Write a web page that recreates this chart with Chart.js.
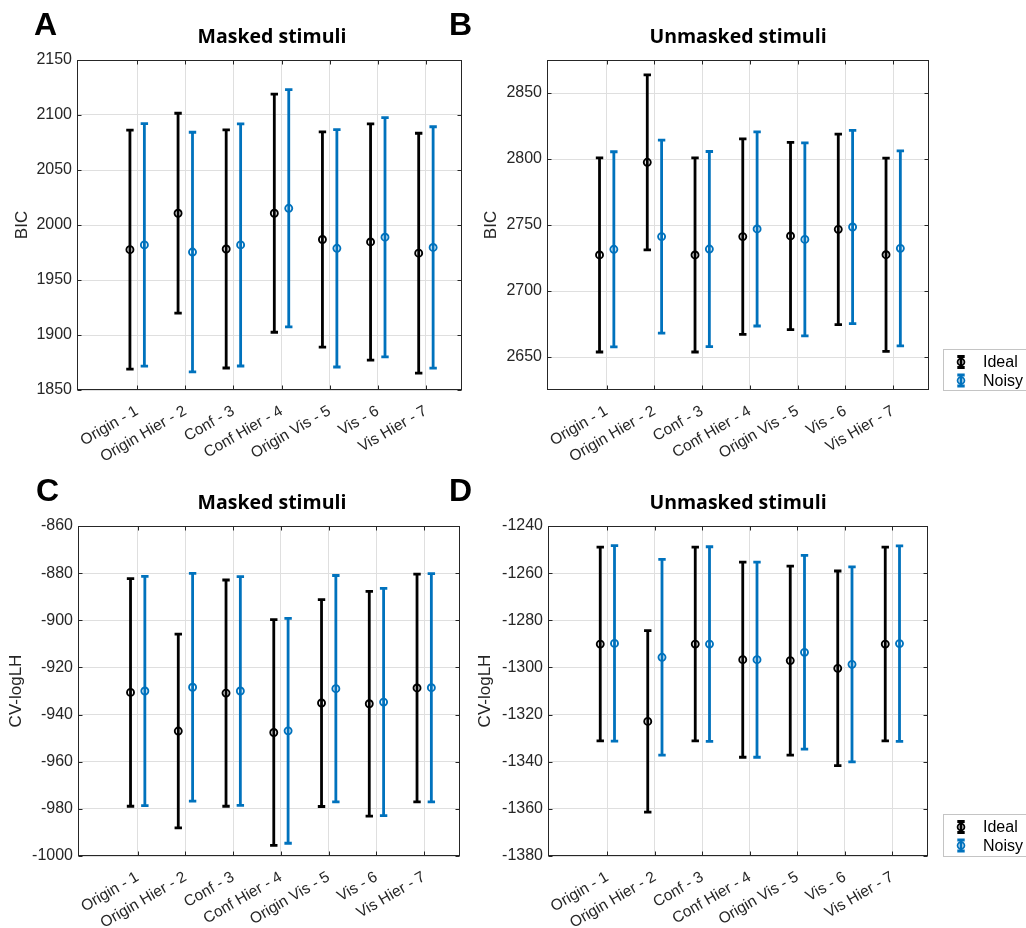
<!DOCTYPE html>
<html>
<head>
<meta charset="utf-8">
<title>BIC / CV-logLH</title>
<script src="https://cdn.jsdelivr.net/npm/chart.js@4.4.1/dist/chart.umd.min.js"></script>
<style>
body { margin: 0; background: #fff; }
#page { position: relative; width: 1026px; height: 928px; overflow: hidden; }
canvas { position: absolute; }
</style>
</head>
<body>
<div id="page">
  <canvas id="graphA" width="500" height="460" style="left:0;top:0"></canvas>
  <canvas id="graphB" width="586" height="460" style="left:440px;top:0"></canvas>
  <canvas id="graphC" width="500" height="468" style="left:0;top:460px"></canvas>
  <canvas id="graphD" width="586" height="468" style="left:440px;top:460px"></canvas>
</div>
<script>
//--------------------- DATA -------------------------
const models = ['Origin - 1', 'Origin Hier - 2', 'Conf - 3', 'Conf Hier - 4', 'Origin Vis - 5', 'Vis - 6', 'Vis Hier - 7'];

// BIC, masked stimuli (mean and half width of error bar)
const bicMaskedIdeal = [1977.6, 2010.7, 1978.2, 2010.7, 1986.8, 1984.6, 1974.4];
const bicMaskedIdealErr = [108.6, 90.9, 108.2, 108.2, 97.9, 107.4, 109.0];
const bicMaskedNoisy = [1981.9, 1975.4, 1981.9, 2015.2, 1978.8, 1988.9, 1979.6];
const bicMaskedNoisyErr = [110.2, 108.9, 110.1, 107.9, 107.9, 108.8, 109.7];
const bicMaskedTicks = [1850, 1900, 1950, 2000, 2050, 2100, 2150];

// BIC, unmasked stimuli
const bicUnmaskedIdeal = [2727.3, 2797.5, 2727.3, 2741.2, 2741.7, 2746.7, 2727.5];
const bicUnmaskedIdealErr = [73.5, 66.3, 73.5, 74.0, 70.9, 72.2, 73.2];
const bicUnmaskedNoisy = [2731.6, 2741.2, 2731.8, 2747.0, 2739.1, 2748.5, 2732.3];
const bicUnmaskedNoisyErr = [73.9, 73.1, 73.9, 73.5, 73.1, 73.2, 73.9];
const bicUnmaskedTicks = [2650, 2700, 2750, 2800, 2850];

// CV-logLH, masked stimuli
const cvMaskedIdeal = [-930.6, -947.0, -930.9, -947.6, -935.1, -935.4, -928.7];
const cvMaskedIdealErr = [48.3, 41.1, 48.0, 47.9, 43.9, 47.7, 48.3];
const cvMaskedNoisy = [-930.0, -928.4, -930.0, -946.9, -929.0, -934.7, -928.6];
const cvMaskedNoisyErr = [48.6, 48.3, 48.5, 47.7, 48.0, 48.2, 48.4];
const cvMaskedTicks = [-1000, -980, -960, -940, -920, -900, -880, -860];

// CV-logLH, unmasked stimuli
const cvUnmaskedIdeal = [-1290.1, -1322.9, -1290.1, -1296.7, -1297.1, -1300.4, -1290.1];
const cvUnmaskedIdealErr = [41.1, 38.5, 41.1, 41.4, 40.1, 41.3, 41.1];
const cvUnmaskedNoisy = [-1289.8, -1295.7, -1290.1, -1296.7, -1293.6, -1298.7, -1289.9];
const cvUnmaskedNoisyErr = [41.5, 41.5, 41.3, 41.4, 41.1, 41.4, 41.5];
const cvUnmaskedTicks = [-1380, -1360, -1340, -1320, -1300, -1280, -1260, -1240];

const IDEAL_COLOR = '#000000';
const NOISY_COLOR = '#0072BD';
const AXIS_COLOR = '#262626';
const FONT = "'Liberation Sans', Arial, sans-serif";

//--------------------- PLUGINS -------------------------
// error bar with caps, drawn before the circle markers
function drawErrorBar(ctx, px, top, bot, color) {
    ctx.save();
    ctx.strokeStyle = color;
    ctx.lineWidth = 2.8;
    ctx.beginPath();
    ctx.moveTo(px, top);
    ctx.lineTo(px, bot);
    ctx.moveTo(px - 3.7, top);
    ctx.lineTo(px + 3.7, top);
    ctx.moveTo(px - 3.7, bot);
    ctx.lineTo(px + 3.7, bot);
    ctx.stroke();
    ctx.restore();
}

const errorBars = {
    id: 'errorBars',
    beforeDatasetsDraw(chart) {
        const xs = chart.scales.x;
        const ys = chart.scales.y;
        chart.data.datasets.forEach((ds) => {
            ds.data.forEach((p, j) => {
                const px = xs.getPixelForValue(p.x);
                const top = ys.getPixelForValue(p.y + ds.errors[j]);
                const bot = ys.getPixelForValue(p.y - ds.errors[j]);
                drawErrorBar(chart.ctx, px, top, bot, ds.borderColor);
            });
        });
    }
};

// box, inward ticks, title, panel letter, legend
const frame = {
    id: 'frame',
    afterDraw(chart, args, opts) {
        const ctx = chart.ctx;
        const a = chart.chartArea;
        const xs = chart.scales.x;
        const ys = chart.scales.y;
        const L = Math.round(a.left) + 0.5, R = Math.round(a.right) - 0.5;
        const T = Math.round(a.top) + 0.5, B = Math.round(a.bottom) - 0.5;
        ctx.save();
        ctx.strokeStyle = AXIS_COLOR;
        ctx.lineWidth = 1;
        ctx.strokeRect(L, T, R - L, B - T);
        ctx.beginPath();
        ys.ticks.forEach((t) => {
            const py = Math.round(ys.getPixelForValue(t.value)) + 0.5;
            ctx.moveTo(L, py); ctx.lineTo(L + 4, py);
            ctx.moveTo(R, py); ctx.lineTo(R - 4, py);
        });
        xs.ticks.forEach((t) => {
            const px = Math.round(xs.getPixelForValue(t.value)) + 0.5;
            ctx.moveTo(px, B); ctx.lineTo(px, B - 4);
            ctx.moveTo(px, T); ctx.lineTo(px, T + 4);
        });
        ctx.stroke();

        ctx.fillStyle = '#000';
        ctx.textAlign = 'center';
        ctx.textBaseline = 'alphabetic';
        ctx.font = "bold 19.5px 'Open Sans', sans-serif";
        ctx.fillText(opts.title, opts.titleX, opts.titleY);

        ctx.textAlign = 'left';
        ctx.font = 'bold 32px ' + FONT;
        ctx.fillText(opts.letter, opts.letterX, opts.letterY);

        if (opts.legend) {
            const lg = opts.legend;
            ctx.strokeStyle = '#c4c4c4';
            ctx.strokeRect(lg.left + 0.5, lg.top + 0.5, chart.width - lg.left + 5, lg.bottom - lg.top);
            ctx.font = '16px ' + FONT;
            ctx.textBaseline = 'middle';
            chart.data.datasets.forEach((ds, i) => {
                const cy = lg.top + 13 + i * 18.5;
                drawErrorBar(ctx, lg.left + 18, cy - 5.5, cy + 5.5, ds.borderColor);
                ctx.beginPath();
                ctx.lineWidth = 1.8;
                ctx.strokeStyle = ds.borderColor;
                ctx.arc(lg.left + 18, cy, 3.4, 0, Math.PI * 2);
                ctx.stroke();
                ctx.fillStyle = '#000';
                ctx.fillText(ds.label, lg.left + 40, cy + 1);
            });
        }
        ctx.restore();
    }
};

//--------------------- CHART SETUP -------------------------
function series(label, means, errors, shift, color) {
    return {
        label: label,
        data: means.map((m, i) => ({ x: i + 1 + shift, y: m })),
        errors: errors,
        borderColor: color,
        backgroundColor: 'rgba(0,0,0,0)',
        pointRadius: 3.5,
        pointBorderWidth: 1.9,
        showLine: false
    };
}

function makeChart(p) {
    const canvas = document.getElementById(p.id);
    const W = canvas.width;
    const H = canvas.height;
    const padLeft = p.yTitleX - 11;
    return new Chart(canvas.getContext('2d'), {
        type: 'scatter',
        data: {
            datasets: [
                series('Ideal', p.ideal, p.idealErr, -0.15, IDEAL_COLOR),
                series('Noisy', p.noisy, p.noisyErr, 0.15, NOISY_COLOR)
            ]
        },
        options: {
            responsive: false,
            animation: false,
            layout: { padding: { left: padLeft, top: p.area.top, right: W - p.area.right, bottom: 0 } },
            plugins: {
                legend: { display: false },
                tooltip: { enabled: false },
                frame: p.frame
            },
            scales: {
                x: {
                    type: 'linear',
                    min: -0.25,
                    max: 7.75,
                    afterBuildTicks: (s) => { s.ticks = models.map((m, i) => ({ value: i + 1 })); },
                    afterFit: (s) => { s.height = H - p.area.bottom; },
                    ticks: {
                        callback: (v) => models[v - 1],
                        autoSkip: false,
                        minRotation: 30,
                        maxRotation: 30,
                        padding: 12,
                        color: AXIS_COLOR,
                        font: { family: FONT, size: 15.5 }
                    },
                    grid: { color: '#dfdfdf', drawTicks: false },
                    border: { display: false }
                },
                y: {
                    min: p.yMin,
                    max: p.yMax,
                    afterBuildTicks: (s) => { s.ticks = p.yTicks.map((v) => ({ value: v })); },
                    afterFit: (s) => { s.width = p.area.left - padLeft; },
                    ticks: {
                        callback: (v) => String(v),
                        padding: 5,
                        color: AXIS_COLOR,
                        font: { family: FONT, size: 16 }
                    },
                    title: {
                        display: true,
                        text: p.yLabel,
                        color: AXIS_COLOR,
                        padding: { top: 1, bottom: 0 },
                        font: { family: FONT, size: 17 }
                    },
                    grid: { color: '#dfdfdf', drawTicks: false },
                    border: { display: false }
                }
            }
        },
        plugins: [errorBars, frame]
    });
}

//--------------------- RENDER -------------------------
const graphA = makeChart({
    id: 'graphA', ideal: bicMaskedIdeal, idealErr: bicMaskedIdealErr, noisy: bicMaskedNoisy, noisyErr: bicMaskedNoisyErr,
    yMin: 1850, yMax: 2150, yTicks: bicMaskedTicks, yLabel: 'BIC', yTitleX: 22.5,
    area: { left: 77, right: 462, top: 60, bottom: 390 },
    frame: { title: 'Masked stimuli', titleX: 272, titleY: 43, letter: 'A', letterX: 34, letterY: 35 }
});
const graphB = makeChart({
    id: 'graphB', ideal: bicUnmaskedIdeal, idealErr: bicUnmaskedIdealErr, noisy: bicUnmaskedNoisy, noisyErr: bicUnmaskedNoisyErr,
    yMin: 2625, yMax: 2875, yTicks: bicUnmaskedTicks, yLabel: 'BIC', yTitleX: 51,
    area: { left: 107, right: 489, top: 60, bottom: 390 },
    frame: { title: 'Unmasked stimuli', titleX: 298, titleY: 43, letter: 'B', letterX: 9, letterY: 35,
             legend: { left: 503, top: 349, bottom: 390 } }
});
const graphC = makeChart({
    id: 'graphC', ideal: cvMaskedIdeal, idealErr: cvMaskedIdealErr, noisy: cvMaskedNoisy, noisyErr: cvMaskedNoisyErr,
    yMin: -1000, yMax: -860, yTicks: cvMaskedTicks, yLabel: 'CV-logLH', yTitleX: 16.5,
    area: { left: 78, right: 460, top: 66, bottom: 396 },
    frame: { title: 'Masked stimuli', titleX: 272, titleY: 49, letter: 'C', letterX: 36, letterY: 41 }
});
const graphD = makeChart({
    id: 'graphD', ideal: cvUnmaskedIdeal, idealErr: cvUnmaskedIdealErr, noisy: cvUnmaskedNoisy, noisyErr: cvUnmaskedNoisyErr,
    yMin: -1380, yMax: -1240, yTicks: cvUnmaskedTicks, yLabel: 'CV-logLH', yTitleX: 45.5,
    area: { left: 108, right: 488, top: 66, bottom: 396 },
    frame: { title: 'Unmasked stimuli', titleX: 298, titleY: 49, letter: 'D', letterX: 9, letterY: 41,
             legend: { left: 503, top: 354, bottom: 396 } }
});
</script>
</body>
</html>
